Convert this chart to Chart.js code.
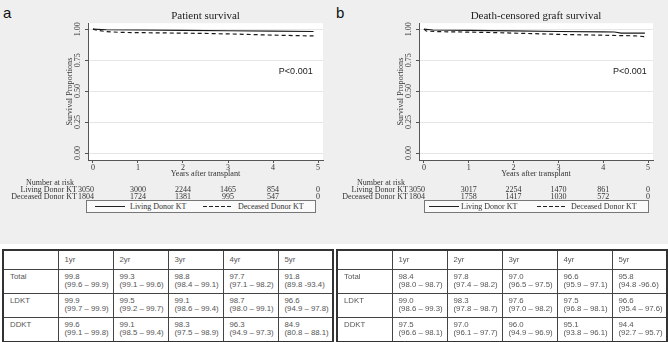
<!DOCTYPE html>
<html>
<head>
<meta charset="utf-8">
<script src="https://cdn.jsdelivr.net/npm/chart.js@4.4.1/dist/chart.umd.min.js"></script>
<style>
html,body{margin:0;padding:0;background:#fff;}
body{width:668px;height:342px;position:relative;overflow:hidden;font-family:"Liberation Serif","Times New Roman",serif;}
#top{position:absolute;left:0;top:0;width:668px;height:244px;background:#efefef;}
canvas{position:absolute;top:0;}
.letter{position:absolute;top:5px;font:15px/15px "Liberation Sans",Arial,sans-serif;color:#111;}
.legend{position:absolute;top:200px;height:11px;border:1px solid #777;background:#fafafa;font-size:8px;line-height:11px;color:#333;}
.legend span{position:absolute;top:0;white-space:nowrap;}
.legend i{position:absolute;top:5px;width:30px;height:1px;}
.legend i.solid{background:#222;}
.legend i.dash{background:repeating-linear-gradient(90deg,#222 0 4px,transparent 4px 6px);}
table{position:absolute;top:249px;width:331px;border-collapse:collapse;table-layout:fixed;border:2px solid #333;font:7.8px/8px "Liberation Sans",Arial,sans-serif;color:#555;}
td{border:1px solid #444;padding:3px 6px 0;vertical-align:top;white-space:nowrap;overflow:hidden;}
tr.head td{vertical-align:middle;padding-top:0;}
</style>
</head>
<body>
<div id="top">
  <div class="letter" style="left:3px">a</div>
  <div class="letter" style="left:336px">b</div>
  <canvas id="chartA" width="334" height="244" style="left:0"></canvas>
  <canvas id="chartB" width="334" height="244" style="left:331px"></canvas>
  <div class="legend" id="legA" style="left:86px;width:228px"></div>
  <div class="legend" id="legB" style="left:424px;width:223px"></div>
</div>
<table id="tabA" style="left:2px"></table>
<table id="tabB" style="left:336px"></table>
<script>
const seriesNames = ['Living Donor KT', 'Deceased Donor KT'];
const yearTicks = [0, 1, 2, 3, 4, 5];
const survTicks = [0, 0.25, 0.5, 0.75, 1];

// a: patient survival
const patLivingYears = [0, 0.3, 1, 2, 3, 4, 4.9];
const patLivingSurv = [1, 0.995, 0.993, 0.99, 0.987, 0.984, 0.981];
const patDeceasedYears = [0, 0.1, 0.3, 0.6, 1.2, 2.4, 3.2, 3.85, 4.5, 4.9];
const patDeceasedSurv = [1, 0.99, 0.98, 0.974, 0.971, 0.966, 0.96, 0.953, 0.948, 0.945];
const patRiskLiving = [3050, 3000, 2244, 1465, 854, 0];
const patRiskDeceased = [1804, 1724, 1381, 995, 547, 0];

// b: death-censored graft survival
const graftLivingYears = [0, 0.2, 1, 2, 3, 4, 4.25, 4.4, 4.93];
const graftLivingSurv = [1, 0.993, 0.99, 0.986, 0.981, 0.978, 0.977, 0.968, 0.968];
const graftDeceasedYears = [0, 0.05, 0.3, 1.0, 1.6, 2.4, 3.2, 4.0, 4.7, 4.93];
const graftDeceasedSurv = [1, 0.985, 0.98, 0.976, 0.972, 0.964, 0.956, 0.951, 0.946, 0.94];
const graftRiskLiving = [3050, 3017, 2254, 1470, 861, 0];
const graftRiskDeceased = [1804, 1758, 1417, 1030, 572, 0];

// tables
const yearCols = ['1yr', '2yr', '3yr', '4yr', '5yr'];
const groupRows = ['Total', 'LDKT', 'DDKT'];
const patTotal = ['99.8', '99.3', '98.8', '97.7', '91.8'];
const patTotalCI = ['(99.6 – 99.9)', '(99.1 – 99.6)', '(98.4 – 99.1)', '(97.1 – 98.2)', '(89.8 -93.4)'];
const patLdkt = ['99.9', '99.5', '99.1', '98.7', '96.6'];
const patLdktCI = ['(99.7 – 99.9)', '(99.2 – 99.7)', '(98.6 – 99.4)', '(98.0 – 99.1)', '(94.9 – 97.8)'];
const patDdkt = ['99.6', '99.1', '98.3', '96.3', '84.9'];
const patDdktCI = ['(99.1 – 99.8)', '(98.5 – 99.4)', '(97.5 – 98.9)', '(94.9 – 97.3)', '(80.8 – 88.1)'];
const graftTotal = ['98.4', '97.8', '97.0', '96.6', '95.8'];
const graftTotalCI = ['(98.0 – 98.7)', '(97.4 – 98.2)', '(96.5 – 97.5)', '(95.9 – 97.1)', '(94.8 -96.6)'];
const graftLdkt = ['99.0', '98.3', '97.6', '97.5', '96.6'];
const graftLdktCI = ['(98.6 – 99.3)', '(97.8 – 98.7)', '(97.0 – 98.2)', '(96.8 – 98.1)', '(95.4 – 97.6)'];
const graftDdkt = ['97.5', '97.0', '96.0', '95.1', '94.4'];
const graftDdktCI = ['(96.6 – 98.1)', '(96.1 – 97.7)', '(94.9 – 96.9)', '(93.8 – 96.1)', '(92.7 – 95.7)'];

const SERIF = '"Liberation Serif", "Times New Roman", serif';
Chart.defaults.font.family = SERIF;

// white plot region
const plotBg = {
  id: 'plotBg',
  beforeDraw(chart) {
    const a = chart.chartArea, ctx = chart.ctx;
    ctx.save();
    ctx.fillStyle = '#fff';
    ctx.fillRect(a.left, a.top, a.right - a.left, a.bottom - a.top);
    ctx.restore();
  }
};

// number at risk + p value
const riskTable = {
  id: 'riskTable',
  afterDraw(chart, args, opts) {
    const ctx = chart.ctx, x = chart.scales.x, y = chart.scales.y;
    const x0 = x.getPixelForValue(0);
    ctx.save();
    ctx.fillStyle = '#333';
    ctx.font = '8px ' + SERIF;
    ctx.textBaseline = 'middle';
    ctx.textAlign = 'right';
    ctx.fillText('Number at risk', x0 - 19, 183);
    const rowsY = [190, 197];
    opts.rows.forEach((row, r) => {
      ctx.textAlign = 'right';
      ctx.fillText(seriesNames[r], x0 - 16, rowsY[r]);
      row.forEach((n, i) => {
        const px = x.getPixelForValue(yearTicks[i]);
        ctx.textAlign = i === 0 ? 'right' : 'center';
        ctx.fillText(String(n), i === 0 ? px + 1 : px, rowsY[r]);
      });
    });
    ctx.font = '9px "Liberation Sans", Arial, sans-serif';
    ctx.fillStyle = '#222';
    ctx.textAlign = 'right';
    ctx.fillText('P<0.001', x.getPixelForValue(opts.pX), y.getPixelForValue(0.66));
    ctx.restore();
  }
};

function pts(xs, ys) {
  return xs.map((t, i) => ({ x: t, y: ys[i] }));
}

function makeChart(id, title, livX, livY, decX, decY, riskRows, pX, padRight) {
  return new Chart(document.getElementById(id), {
    type: 'line',
    data: {
      datasets: [
        { label: seriesNames[0], data: pts(livX, livY), borderColor: '#1a1a1a', borderWidth: 1.2, pointRadius: 0, tension: 0, fill: false },
        { label: seriesNames[1], data: pts(decX, decY), borderColor: '#1a1a1a', borderWidth: 1.2, borderDash: [4, 3], pointRadius: 0, tension: 0, fill: false }
      ]
    },
    options: {
      responsive: false,
      animation: false,
      devicePixelRatio: 1,
      layout: { padding: { left: 62, right: padRight, top: 0, bottom: 65 } },
      plugins: {
        legend: { display: false },
        tooltip: { enabled: false },
        title: { display: true, text: title, fullSize: false, color: '#222', font: { size: 11, weight: 'normal' }, padding: { top: 10, bottom: 0 } },
        riskTable: { rows: riskRows, pX: pX }
      },
      scales: {
        x: {
          type: 'linear', min: -0.11, max: 5.11,
          afterBuildTicks: s => { s.ticks = yearTicks.map(v => ({ value: v })); },
          afterFit: s => { s.height = 19; },
          ticks: { color: '#333', font: { size: 8 }, padding: 0, maxRotation: 0, autoSkip: false },
          grid: { drawOnChartArea: false, tickLength: 3, tickColor: '#555' },
          border: { color: '#555', width: 1 },
          title: { display: true, text: 'Years after transplant', color: '#333', font: { size: 8.2 }, padding: { top: 0, bottom: 0 } }
        },
        y: {
          min: -0.056, max: 1.048,
          afterBuildTicks: s => { s.ticks = survTicks.map(v => ({ value: v })); },
          afterFit: s => { s.width = 26; },
          ticks: { callback: v => v.toFixed(2), minRotation: 90, maxRotation: 90, crossAlign: 'center', padding: 0, color: '#333', font: { size: 8 }, autoSkip: false },
          grid: { color: '#e6e6e6', tickLength: 3, tickColor: '#555' },
          border: { color: '#555', width: 1 },
          title: { display: true, text: 'Survival Proportions', color: '#333', font: { size: 8.2 }, padding: { top: 3, bottom: 0 } }
        }
      }
    },
    plugins: [plotBg, riskTable]
  });
}

makeChart('chartA', 'Patient survival', patLivingYears, patLivingSurv, patDeceasedYears, patDeceasedSurv,
  [patRiskLiving, patRiskDeceased], 4.88, 11);
makeChart('chartB', 'Death-censored graft survival', graftLivingYears, graftLivingSurv, graftDeceasedYears, graftDeceasedSurv,
  [graftRiskLiving, graftRiskDeceased], 4.97, 12);

// legends
function buildLegend(id, pos) {
  const el = document.getElementById(id);
  el.innerHTML =
    '<i class="solid" style="left:' + pos[0] + 'px"></i><span style="left:' + pos[1] + 'px">' + seriesNames[0] + '</span>' +
    '<i class="dash" style="left:' + pos[2] + 'px"></i><span style="left:' + pos[3] + 'px">' + seriesNames[1] + '</span>';
}
buildLegend('legA', [8, 43, 116, 151]);
buildLegend('legB', [4, 36, 112, 146]);

// tables
function buildTable(id, rows) {
  const t = document.getElementById(id);
  let html = '<colgroup>' + '<col style="width:55px">'.repeat(6) + '</colgroup>';
  html += '<tr class="head" style="height:19px"><td></td>' + yearCols.map(c => '<td>' + c + '</td>').join('') + '</tr>';
  const hs = [24, 24, 25];
  rows.forEach((r, i) => {
    html += '<tr style="height:' + hs[i] + 'px"><td>' + groupRows[i] + '</td>' +
      r[0].map((v, j) => '<td>' + v + '<br>' + r[1][j] + '</td>').join('') + '</tr>';
  });
  t.innerHTML = html;
}
buildTable('tabA', [[patTotal, patTotalCI], [patLdkt, patLdktCI], [patDdkt, patDdktCI]]);
buildTable('tabB', [[graftTotal, graftTotalCI], [graftLdkt, graftLdktCI], [graftDdkt, graftDdktCI]]);
</script>
</body>
</html>
